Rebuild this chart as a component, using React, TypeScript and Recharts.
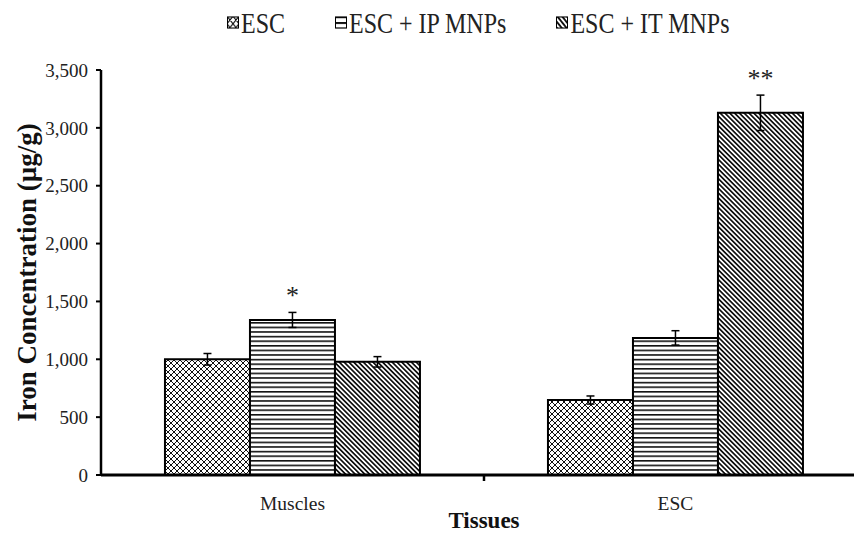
import { BarChart, Bar, XAxis, YAxis, ErrorBar, LabelList } from "recharts"

const tissues = ["Muscles", "ESC"]
const seriesNames = ["ESC", "ESC + IP MNPs", "ESC + IT MNPs"]
const escValues = [1000, 648]
const escErrors = [50, 35]
const ipValues = [1340, 1185]
const ipErrors = [65, 62]
const itValues = [978, 3130]
const itErrors = [45, 153]
const ipMarks = ["*", ""]
const itMarks = ["", "**"]
const yTicks = [0, 500, 1000, 1500, 2000, 2500, 3000, 3500]

const data = tissues.map((name, i) => ({
  name,
  esc: escValues[i],
  escErr: escErrors[i],
  ip: ipValues[i],
  ipErr: ipErrors[i],
  ipMark: ipMarks[i],
  it: itValues[i],
  itErr: itErrors[i],
  itMark: itMarks[i],
}))

const FONT = '"Liberation Serif", "Times New Roman", serif'
const W = 870
const H = 534
const TOP = 70
const AXIS_Y = 475
const LEFT = 101
const RIGHT = 3
const BAND = (W - LEFT - RIGHT) / tissues.length
const fills = ["url(#pat-cross)", "url(#pat-horiz)", "url(#pat-diag)"]

function Patterns() {
  return (
    <svg width={0} height={0} style={{ position: "absolute" }}>
      <defs>
        <pattern id="pat-cross" patternUnits="userSpaceOnUse" width={6} height={6}>
          <rect width={6} height={6} fill="#fff" />
          <path d="M0,0 L6,6 M6,0 L0,6 M-1,5 L1,7 M5,-1 L7,1 M-1,1 L1,-1 M5,7 L7,5" stroke="#111" strokeWidth={1} />
        </pattern>
        <pattern id="pat-horiz" patternUnits="userSpaceOnUse" width={6} height={4.6}>
          <rect width={6} height={4.6} fill="#fff" />
          <rect y={0} width={6} height={1.6} fill="#111" />
        </pattern>
        <pattern id="pat-diag" patternUnits="userSpaceOnUse" width={3.4} height={6} patternTransform="rotate(-45)">
          <rect width={3.4} height={6} fill="#fff" />
          <rect x={0} width={1.7} height={6} fill="#111" />
        </pattern>
      </defs>
    </svg>
  )
}

const starLabel = (values: number[], errors: number[]) => (props: any) => {
  const vb = props.viewBox || props
  const { index, value } = props
  if (!value) return null
  const scale = vb.height / values[index]
  const top = vb.y - errors[index] * scale
  return (
    <text
      x={vb.x + vb.width / 2}
      y={top - 8}
      textAnchor="middle"
      fontSize={26}
      fontFamily={FONT}
      fill="#222"
    >
      {value}
    </text>
  )
}

function CategoryTick(props: any) {
  const { x, payload, index } = props
  return (
    <g>
      <text x={x} y={510} textAnchor="middle" fontSize={19.5} fontFamily={FONT} fill="#222">
        {payload.value}
      </text>
      {index === 0 && (
        <line x1={x + BAND / 2} x2={x + BAND / 2} y1={AXIS_Y} y2={AXIS_Y + 6} stroke="#000" strokeWidth={2.5} />
      )}
    </g>
  )
}

function XTitle(props: any) {
  const vb = props.viewBox
  return (
    <text x={vb.x + vb.width / 2} y={528} textAnchor="middle" fontSize={23} fontWeight="bold" fontFamily={FONT} fill="#111">
      Tissues
    </text>
  )
}

function YTitle(props: any) {
  const vb = props.viewBox
  const cy = vb.y + vb.height / 2
  return (
    <text
      x={36}
      y={cy}
      transform={`rotate(-90, 36, ${cy})`}
      textAnchor="middle"
      fontSize={27}
      fontWeight="bold"
      fontFamily={FONT}
      fill="#111"
    >
      Iron Concentration  (µg/g)
    </text>
  )
}

function Legend() {
  return (
    <div
      style={{
        position: "absolute",
        left: 227,
        top: 5,
        display: "flex",
        gap: 50,
        fontFamily: FONT,
        fontSize: 24,
        lineHeight: "28px",
        color: "#222",
        transform: "scaleY(1.25)",
        transformOrigin: "0 0",
        whiteSpace: "pre",
      }}
    >
      {seriesNames.map((n, i) => (
        <div key={n} style={{ display: "flex", alignItems: "center" }}>
          <svg width={12} height={10} style={{ marginRight: 2 }}>
            <rect x={0.5} y={0.5} width={11} height={9} fill={fills[i]} stroke="#000" strokeWidth={1} />
          </svg>
          <span>{n}</span>
        </div>
      ))}
    </div>
  )
}

export default function App() {
  return (
    <div style={{ position: "absolute", left: 0, top: 0, width: 854, height: 534, overflow: "hidden", background: "#fff" }}>
      <Patterns />
      <BarChart
        width={W}
        height={H}
        data={data}
        margin={{ top: TOP, right: RIGHT, left: 0, bottom: 0 }}
        barCategoryGap="16.7%"
        barGap={0}
      >
        <XAxis
          dataKey="name"
          height={H - AXIS_Y}
          axisLine={{ stroke: "#000", strokeWidth: 3 }}
          tickLine={false}
          tick={<CategoryTick />}
          interval={0}
          label={<XTitle />}
        />
        <YAxis
          width={LEFT}
          domain={[0, 3500]}
          ticks={yTicks}
          interval={0}
          tickFormatter={(v: number) => v.toLocaleString("en-US")}
          axisLine={{ stroke: "#000", strokeWidth: 2.5 }}
          tickLine={{ stroke: "#000", strokeWidth: 2 }}
          tickSize={5}
          tickMargin={8}
          tick={{ fontSize: 19, fontFamily: FONT, fill: "#222" }}
          label={<YTitle />}
        />
        <Bar dataKey="esc" name={seriesNames[0]} fill={fills[0]} stroke="#000" strokeWidth={2} isAnimationActive={false}>
          <ErrorBar dataKey="escErr" width={4} stroke="#000" strokeWidth={1.5} />
        </Bar>
        <Bar dataKey="ip" name={seriesNames[1]} fill={fills[1]} stroke="#000" strokeWidth={2} isAnimationActive={false}>
          <ErrorBar dataKey="ipErr" width={4} stroke="#000" strokeWidth={1.5} />
          <LabelList dataKey="ipMark" content={starLabel(ipValues, ipErrors)} />
        </Bar>
        <Bar dataKey="it" name={seriesNames[2]} fill={fills[2]} stroke="#000" strokeWidth={2} isAnimationActive={false}>
          <ErrorBar dataKey="itErr" width={4} stroke="#000" strokeWidth={1.5} />
          <LabelList dataKey="itMark" content={starLabel(itValues, itErrors)} />
        </Bar>
      </BarChart>
      <Legend />
    </div>
  )
}
